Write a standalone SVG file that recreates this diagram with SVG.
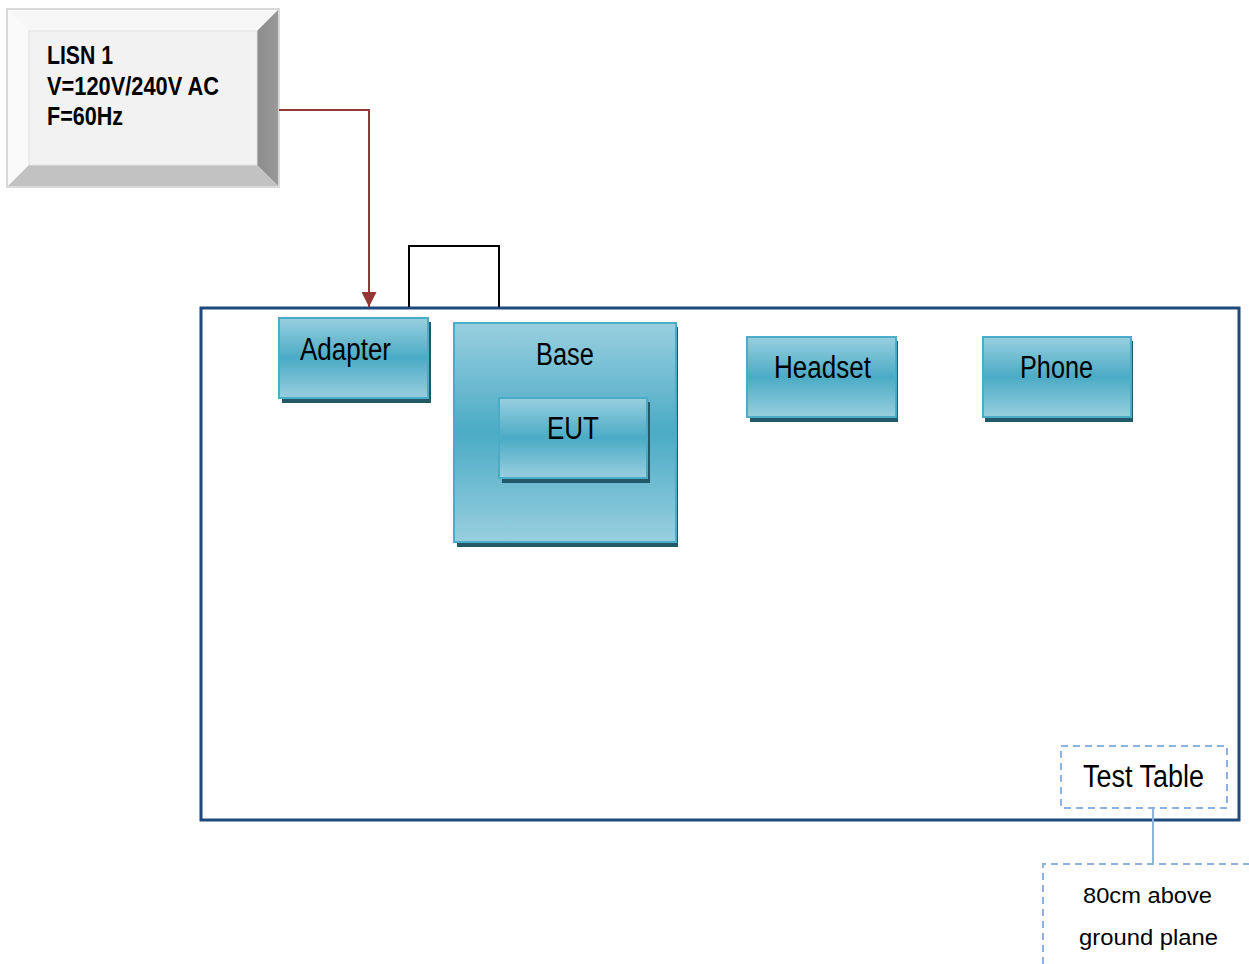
<svg xmlns="http://www.w3.org/2000/svg" width="1249" height="964" viewBox="0 0 1249 964">
<style>
.nodeText{font-family:"Liberation Sans Narrow","Liberation Sans",Arial,sans-serif;font-size:31px;fill:#000;}
.lisnText{font-family:"Liberation Sans Narrow","Liberation Sans",Arial,sans-serif;font-size:25.5px;font-weight:bold;fill:#000;}
.noteText{font-family:"Liberation Sans",Arial,sans-serif;font-size:22.5px;fill:#000;}
.box{fill:url(#aqua);stroke:#4bacc6;stroke-width:2;}
.shadow{fill:#215968;}
.dash{fill:none;stroke:#8db3e2;stroke-width:2;stroke-dasharray:7 5;}
</style>
<defs>
<linearGradient id="aqua" x1="0" y1="0" x2="0" y2="1">
<stop offset="0" stop-color="#98cfdf"/>
<stop offset="0.5" stop-color="#4babc5"/>
<stop offset="1" stop-color="#98cfdf"/>
</linearGradient>
<linearGradient id="bevR" x1="0" y1="0" x2="1" y2="0">
<stop offset="0" stop-color="#8c8c8c"/>
<stop offset="1" stop-color="#9a9a9a"/>
</linearGradient>
<marker id="arrowRed" viewBox="0 0 10 10" refX="10" refY="5" markerUnits="userSpaceOnUse" markerWidth="15" markerHeight="15" orient="auto">
<path d="M0,0 L10,5 L0,10 Z" fill="#953735"/>
</marker>
</defs>

<g id="test-table">
<rect x="201" y="308" width="1038" height="512" fill="none" stroke="#1f497d" stroke-width="3"/>
</g>

<g id="lisn">
<rect x="7" y="9" width="272" height="178" fill="#f2f2f2"/>
<polygon points="7,9 279,9 257,31 29,31" fill="#f7f7f7"/>
<polygon points="7,9 29,31 29,165 7,187" fill="#fafafa"/>
<polygon points="279,9 279,187 257,165 257,31" fill="url(#bevR)"/>
<polygon points="7,187 279,187 257,165 29,165" fill="#c2c2c2"/>
<rect x="29" y="31" width="228" height="134" fill="#f2f2f2" stroke="#e2e2e2" stroke-width="1"/>
<rect x="7" y="9" width="272" height="178" fill="none" stroke="#d9d9d9" stroke-width="2"/>
<text class="lisnText" x="47" y="64" textLength="66" lengthAdjust="spacingAndGlyphs">LISN 1</text>
<text class="lisnText" x="47" y="95" textLength="172" lengthAdjust="spacingAndGlyphs">V=120V/240V AC</text>
<text class="lisnText" x="47" y="125" textLength="76" lengthAdjust="spacingAndGlyphs">F=60Hz</text>
</g>

<g id="adapter">
<rect class="shadow" x="282" y="322" width="149" height="81"/>
<rect class="box" x="279" y="318" width="149" height="80"/>
<text class="nodeText" x="300" y="360" textLength="91" lengthAdjust="spacingAndGlyphs">Adapter</text>
</g>

<g id="base">
<rect class="shadow" x="457" y="327" width="221" height="220"/>
<rect class="box" x="454" y="323" width="222" height="219"/>
<text class="nodeText" x="536" y="365" textLength="58" lengthAdjust="spacingAndGlyphs">Base</text>
</g>

<g id="eut">
<rect class="shadow" x="502" y="402" width="148" height="81"/>
<rect class="box" x="499" y="398" width="148" height="80"/>
<text class="nodeText" x="547" y="439" textLength="52" lengthAdjust="spacingAndGlyphs">EUT</text>
</g>

<g id="headset">
<rect class="shadow" x="750" y="341" width="148" height="81"/>
<rect class="box" x="747" y="337" width="149" height="80"/>
<text class="nodeText" x="774" y="378" textLength="97" lengthAdjust="spacingAndGlyphs">Headset</text>
</g>

<g id="phone">
<rect class="shadow" x="985" y="341" width="148" height="81"/>
<rect class="box" x="983" y="337" width="148" height="80"/>
<text class="nodeText" x="1020" y="378" textLength="73" lengthAdjust="spacingAndGlyphs">Phone</text>
</g>

<g id="test-table-label">
<rect class="dash" x="1061" y="746" width="166" height="62"/>
<text class="nodeText" x="1083" y="787" textLength="121" lengthAdjust="spacingAndGlyphs">Test Table</text>
</g>

<g id="height-note">
<path class="dash" d="M1043,964 L1043,864 L1249,864"/>
<text class="noteText" x="1083" y="903" textLength="129" lengthAdjust="spacingAndGlyphs">80cm above</text>
<text class="noteText" x="1079" y="945" textLength="139" lengthAdjust="spacingAndGlyphs">ground plane</text>
</g>

<g id="connectors">
<polyline points="279,110 369,110 369,307" fill="none" stroke="#953735" stroke-width="2" marker-end="url(#arrowRed)"/>
<polyline points="409,307 409,246 499,246 499,307" fill="none" stroke="#000" stroke-width="2"/>
<line x1="1153" y1="808" x2="1153" y2="864" stroke="#8db3e2" stroke-width="2"/>
</g>
</svg>
